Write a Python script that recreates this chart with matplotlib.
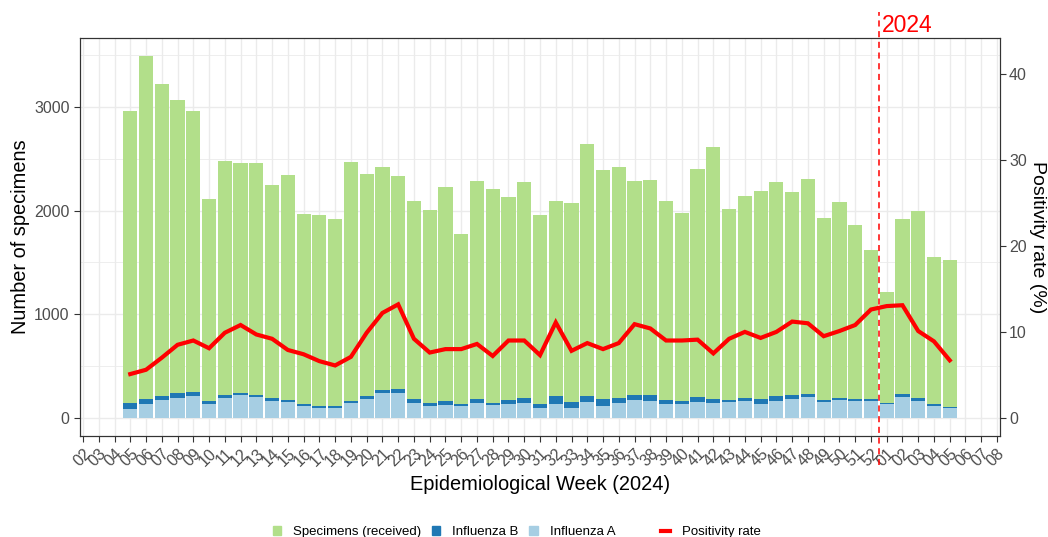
import matplotlib
matplotlib.use("Agg")
import matplotlib.pyplot as plt
from matplotlib.patches import Patch
from matplotlib.lines import Line2D
import numpy as np

plt.rcParams['font.family'] = ['Liberation Sans', 'DejaVu Sans']

# Axis categories: epi weeks 02-52 then 01-08 of the next year
axis_weeks = ['%02d' % w for w in range(2, 53)] + ['%02d' % w for w in range(1, 9)]

# Weeks with data (05-52, then 01-05)
bar_weeks = ['%02d' % w for w in range(5, 53)] + ['%02d' % w for w in range(1, 6)]

specimens = [2962, 3490, 3221, 3070, 2962, 2109, 2478, 2455, 2455, 2250, 2340, 1965,
             1958, 1920, 2465, 2356, 2423, 2336, 2090, 2010, 2224, 1776, 2288, 2208,
             2135, 2276, 1955, 2090, 2077, 2641, 2388, 2420, 2285, 2292, 2090, 1974,
             2400, 2612, 2013, 2141, 2186, 2279, 2180, 2308, 1929, 2080, 1859, 1618,
             1212, 1917, 1994, 1555, 1522]

flu_a = [90, 135, 170, 192, 212, 135, 189, 221, 202, 163, 154, 119,
         96, 93, 144, 186, 244, 244, 144, 115, 128, 115, 141, 122,
         131, 141, 93, 131, 93, 157, 119, 147, 173, 167, 131, 138,
         155, 141, 151, 167, 135, 167, 183, 202, 157, 176, 163, 163,
         131, 202, 163, 119, 93]

flu_b = [54, 51, 42, 48, 35, 25, 35, 23, 19, 26, 19, 16,
         23, 19, 23, 29, 25, 32, 35, 26, 39, 20, 42, 25,
         45, 48, 42, 77, 58, 55, 60, 49, 51, 51, 42, 29,
         45, 45, 22, 29, 51, 41, 35, 29, 16, 20, 23, 23,
         13, 26, 29, 12, 10]

positivity = [5.1, 5.6, 7.0, 8.5, 9.0, 8.1, 9.9, 10.8, 9.7, 9.2, 7.9, 7.4,
              6.6, 6.1, 7.1, 9.9, 12.2, 13.2, 9.2, 7.6, 8.0, 8.0, 8.6, 7.2,
              9.0, 9.0, 7.3, 11.1, 7.8, 8.7, 8.0, 8.7, 10.9, 10.4, 9.0, 9.0,
              9.1, 7.5, 9.2, 10.0, 9.3, 10.0, 11.2, 11.0, 9.5, 10.1, 10.8, 12.6,
              13.0, 13.1, 10.1, 8.9, 6.7]

GREEN = '#B2DF8A'
DBLUE = '#1F78B4'
LBLUE = '#A6CEE3'
RED = '#FF0000'
GRID = '#EBEBEB'
TXT = '#4D4D4D'

first_pos = axis_weeks.index(bar_weeks[0])
x = first_pos + np.arange(len(bar_weeks))
spec = np.array(specimens)
a = np.array(flu_a)
b = np.array(flu_b)
neg = spec - a - b

fig = plt.figure(figsize=(10.48, 5.37), dpi=100)
ax = fig.add_axes([80 / 1048, 1 - 436 / 537, 920 / 1048, 398 / 537])

ax.bar(x, a, width=0.9, color=LBLUE, zorder=2)
ax.bar(x, b, bottom=a, width=0.9, color=DBLUE, zorder=2)
ax.bar(x, neg, bottom=a + b, width=0.9, color=GREEN, zorder=2)

ax.set_xlim(-0.19, len(axis_weeks) - 1 + 0.19)
ax.set_ylim(-174, 3664)
ax.set_xticks(np.arange(len(axis_weeks)))
ax.set_xticklabels(axis_weeks, rotation=45, ha='right', va='top',
                   rotation_mode='anchor', fontsize=11.5, color=TXT)
ax.set_yticks([0, 1000, 2000, 3000])
ax.set_yticks([500, 1500, 2500, 3500], minor=True)
ax.tick_params(axis='y', labelsize=11.5, labelcolor=TXT, length=4, color='#333333', width=0.8)
ax.tick_params(axis='y', which='minor', length=0)
ax.tick_params(axis='x', length=4, color='#333333', width=0.8, pad=3)
ax.set_axisbelow(True)
ax.grid(True, which='major', color=GRID, lw=1.0, zorder=0)
ax.grid(True, which='minor', axis='y', color=GRID, lw=0.6, zorder=0)
for s in ax.spines.values():
    s.set_color('#333333')
    s.set_linewidth(0.8)

ax.set_ylabel('Number of specimens', fontsize=14.4, labelpad=3)
ax.set_xlabel('Epidemiological Week (2024)', fontsize=14.4, labelpad=4)

ax2 = ax.twinx()
ax2.plot(x, positivity, color=RED, lw=3, zorder=5, solid_joinstyle='miter')
ax2.set_ylim(-174 * 0.01205, 3664 * 0.01205)
ax2.set_yticks([0, 10, 20, 30, 40])
ax2.tick_params(axis='y', labelsize=11.5, labelcolor=TXT, length=4, color='#333333', width=0.8, pad=2.5)
ax2.set_ylabel('Positivity rate (%)', fontsize=14, rotation=-90, labelpad=14)
for s in ax2.spines.values():
    s.set_color('#333333')
    s.set_linewidth(0.8)

# year boundary marker
year_x = axis_weeks.index('52') + 0.5
ax.add_line(Line2D([year_x, year_x], [-0.073, 1.065], transform=ax.get_xaxis_transform(),
                   color=RED, lw=1.1, ls=(0, (4, 3)), clip_on=False, zorder=6))
ax.text(year_x + 0.2, 1.015, '2024', transform=ax.get_xaxis_transform(),
        color=RED, fontsize=16.5, ha='left', va='baseline', clip_on=False)

h1 = [Patch(color=GREEN), Patch(color=DBLUE), Patch(color=LBLUE)]
l1 = ['Specimens (received)', 'Influenza B', 'Influenza A']
fig.legend(h1, l1, loc='center', bbox_to_anchor=(444 / 1048, 1 - 532 / 537), ncol=3,
           frameon=False, fontsize=9.5, handlelength=0.65, handleheight=0.65,
           handletextpad=0.9, columnspacing=0.8, borderpad=0)
h2 = [Line2D([0], [0], color=RED, lw=3)]
fig.legend(h2, ['Positivity rate'], loc='center', bbox_to_anchor=(711 / 1048, 1 - 532 / 537),
           frameon=False, fontsize=9.5, handlelength=0.65, handletextpad=0.9, borderpad=0)

fig.savefig('out.png', dpi=100)
